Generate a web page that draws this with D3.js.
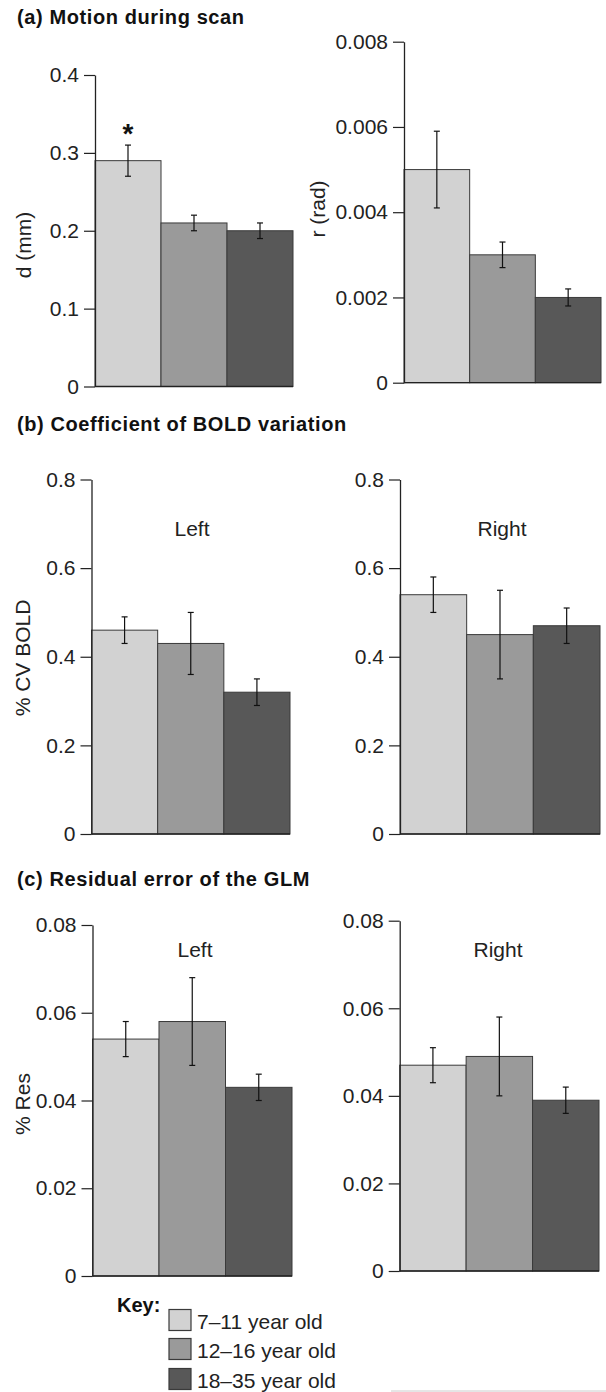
<!DOCTYPE html>
<html>
<head>
<meta charset="utf-8">
<script src="https://cdn.jsdelivr.net/npm/d3@7"></script>
<style>
body{margin:0;background:#fff;}
svg{display:block;font-family:"Liberation Sans",Arial,Helvetica,sans-serif;}
.tick text{font-size:21px;fill:#222;font-family:"Liberation Sans",Arial,Helvetica,sans-serif;}
</style>
</head>
<body>
<div id="chart"></div>
<script>
const groups=["7–11 year old","12–16 year old","18–35 year old"];
const barColors=["#d2d2d2","#9a9a9a","#585858"];

const motionD=[0.29,0.21,0.20];
const motionDErr=[0.02,0.01,0.01];
const motionStars=["*","",""];
const motionR=[0.005,0.003,0.002];
const motionRErr=[0.0009,0.0003,0.0002];

const boldLeft=[0.46,0.43,0.32];
const boldLeftErr=[0.03,0.07,0.03];
const boldRight=[0.54,0.45,0.47];
const boldRightErr=[0.04,0.10,0.04];

const resLeft=[0.054,0.058,0.043];
const resLeftErr=[0.004,0.010,0.003];
const resRight=[0.047,0.049,0.039];
const resRightErr=[0.004,0.009,0.003];

const dTicks=[0,0.1,0.2,0.3,0.4];
const rTicks=[0,0.002,0.004,0.006,0.008];
const boldTicks=[0,0.2,0.4,0.6,0.8];
const resTicks=[0,0.02,0.04,0.06,0.08];

const titles=["(a) Motion during scan","(b) Coefficient of BOLD variation","(c) Residual error of the GLM"];

const svg=d3.select("#chart").append("svg")
  .attr("width",606).attr("height",1392);

function fmt(d){return d===0?"0":String(d);}

function drawPanel(p){
  const ticks=p.ticks;
  const y=d3.scaleLinear().domain([0,ticks[ticks.length-1]]).range([p.y0,p.yTop]);
  const x=d3.scaleBand().domain(groups).range([p.x0,p.x1]).padding(0);
  const g=svg.append("g");

  g.selectAll("rect.bar").data(p.values).enter().append("rect")
    .attr("class","bar")
    .attr("x",(d,i)=>x(groups[i]))
    .attr("y",d=>y(d))
    .attr("width",x.bandwidth())
    .attr("height",d=>p.y0-y(d))
    .attr("fill",(d,i)=>barColors[i])
    .attr("stroke","#3a3a3a")
    .attr("stroke-width",1);

  g.append("line")
    .attr("x1",p.x0).attr("x2",p.x1)
    .attr("y1",p.y0).attr("y2",p.y0)
    .attr("stroke","#222").attr("stroke-width",1.3);

  const eb=g.selectAll("g.err").data(p.values).enter().append("g").attr("class","err")
    .attr("stroke","#111").attr("stroke-width",1.2);
  eb.append("line")
    .attr("x1",(d,i)=>x(groups[i])+x.bandwidth()/2)
    .attr("x2",(d,i)=>x(groups[i])+x.bandwidth()/2)
    .attr("y1",(d,i)=>y(d+p.errs[i]))
    .attr("y2",(d,i)=>y(d-p.errs[i]));
  [1,-1].forEach(s=>{
    eb.append("line")
      .attr("x1",(d,i)=>x(groups[i])+x.bandwidth()/2-3)
      .attr("x2",(d,i)=>x(groups[i])+x.bandwidth()/2+3)
      .attr("y1",(d,i)=>y(d+s*p.errs[i]))
      .attr("y2",(d,i)=>y(d+s*p.errs[i]));
  });

  if(p.stars){
    g.selectAll("text.star").data(p.values).enter().append("text")
      .attr("class","star")
      .attr("x",(d,i)=>x(groups[i])+x.bandwidth()/2)
      .attr("y",(d,i)=>y(d+p.errs[i])-2)
      .attr("text-anchor","middle")
      .attr("font-size",28)
      .attr("font-weight","bold")
      .attr("fill","#111")
      .text((d,i)=>p.stars[i]);
  }

  const ax=g.append("g").attr("transform",`translate(${p.x0},0)`)
    .call(d3.axisLeft(y).tickValues(ticks).tickFormat(fmt).tickSize(11).tickSizeOuter(0).tickPadding(5));
  ax.attr("font-family",null).attr("font-size",null);
  ax.select(".domain").attr("stroke","#222").attr("stroke-width",1.3);
  ax.selectAll(".tick line").attr("stroke","#222").attr("stroke-width",1.2);

  g.append("text")
    .attr("transform",`translate(${p.labelX},${p.labelY}) rotate(-90)`)
    .attr("text-anchor","middle")
    .attr("font-size",21)
    .attr("fill","#222")
    .text(p.ylabel);

  if(p.side){
    g.append("text")
      .attr("x",p.sideX).attr("y",p.sideY)
      .attr("text-anchor","middle")
      .attr("font-size",21)
      .attr("fill","#222")
      .text(p.side);
  }
}

[[24,titles[0]],[431,titles[1]],[886,titles[2]]].forEach(([ty,t])=>{
  svg.append("text")
    .attr("x",17).attr("y",ty)
    .attr("font-size",20)
    .attr("font-weight","bold")
    .attr("letter-spacing",0.6)
    .attr("fill","#111")
    .text(t);
});

drawPanel({x0:95,x1:293,y0:386.5,yTop:75,ticks:dTicks,values:motionD,errs:motionDErr,stars:motionStars,
  ylabel:"d (mm)",labelX:31,labelY:245});
drawPanel({x0:404,x1:601,y0:382.7,yTop:41.7,ticks:rTicks,values:motionR,errs:motionRErr,
  ylabel:"r (rad)",labelX:325,labelY:209});
drawPanel({x0:91.5,x1:290,y0:834,yTop:479.5,ticks:boldTicks,values:boldLeft,errs:boldLeftErr,
  ylabel:"% CV BOLD",labelX:30,labelY:658,side:"Left",sideX:192,sideY:535.5});
drawPanel({x0:400,x1:600,y0:834,yTop:479.5,ticks:boldTicks,values:boldRight,errs:boldRightErr,
  ylabel:"",labelX:0,labelY:0,side:"Right",sideX:502,sideY:535.5});
drawPanel({x0:92.5,x1:292,y0:1276,yTop:925,ticks:resTicks,values:resLeft,errs:resLeftErr,
  ylabel:"% Res",labelX:30,labelY:1104,side:"Left",sideX:195,sideY:957});
drawPanel({x0:399.7,x1:599,y0:1271,yTop:920.7,ticks:resTicks,values:resRight,errs:resRightErr,
  ylabel:"",labelX:0,labelY:0,side:"Right",sideX:498,sideY:956.5});

svg.append("text")
  .attr("x",117).attr("y",1311.5)
  .attr("font-size",20).attr("font-weight","bold").attr("fill","#111")
  .text("Key:");

const keyRows=[1309.5,1338.5,1368.5];
const key=svg.selectAll("g.key").data(groups).enter().append("g").attr("class","key")
  .attr("transform",(d,i)=>`translate(169,${keyRows[i]})`);
key.append("rect")
  .attr("width",22).attr("height",21)
  .attr("fill",(d,i)=>barColors[i])
  .attr("stroke","#3a3a3a").attr("stroke-width",1.2);
key.append("text")
  .attr("x",28).attr("y",19)
  .attr("font-size",21).attr("fill","#222")
  .text(d=>d);

svg.append("line")
  .attr("x1",391).attr("x2",606).attr("y1",1391).attr("y2",1391)
  .attr("stroke","#ccc").attr("stroke-width",1);
</script>
</body>
</html>
